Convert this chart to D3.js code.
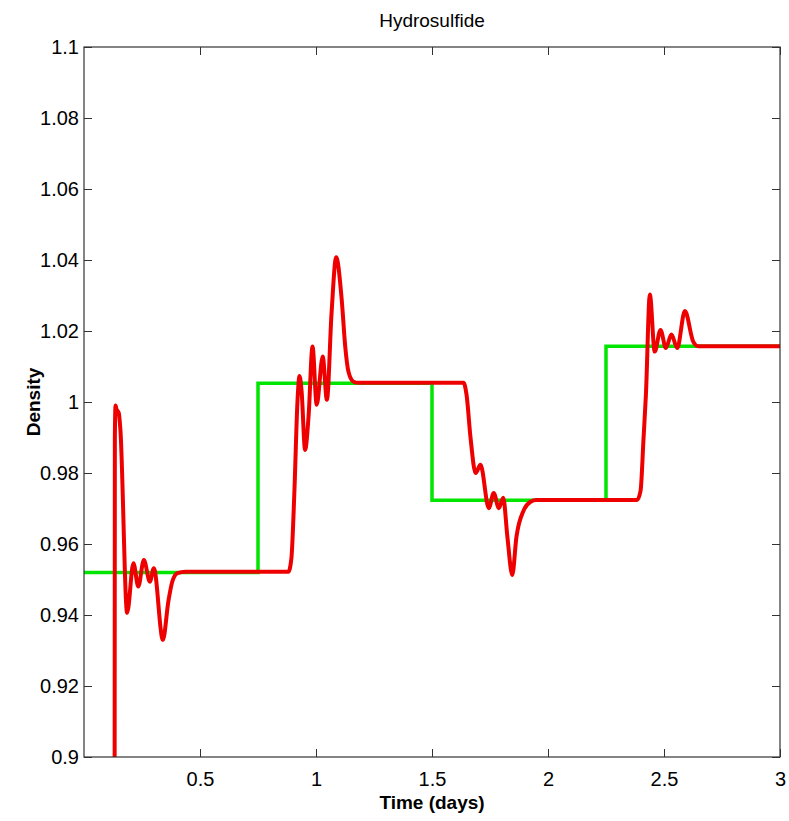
<!DOCTYPE html>
<html><head><meta charset="utf-8">
<script src="https://cdn.jsdelivr.net/npm/d3@7"></script>
<style>
html,body{margin:0;padding:0;background:#fff;}
text{font-family:"Liberation Sans",Arial,sans-serif;}
</style></head>
<body><svg id="c" width="789" height="821"></svg>
<script>
// ---- data ----
const title = "Hydrosulfide";
const xLabel = "Time (days)";
const yLabel = "Density";
const xTicks = [0.5, 1, 1.5, 2, 2.5, 3];
const yTicks = [0.9, 0.92, 0.94, 0.96, 0.98, 1, 1.02, 1.04, 1.06, 1.08, 1.1];
// reference (step) series
const refT = [0, 0.75, 0.75, 1.5, 1.5, 2.25, 2.25, 3];
const refV = [0.952, 0.952, 1.0053, 1.0053, 0.9723, 0.9723, 1.0157, 1.0157];
// simulated series
const simT = [0.131, 0.133, 0.136, 0.140, 0.150, 0.157, 0.186, 0.213, 0.234, 0.258, 0.284, 0.301, 0.340, 0.364, 0.381, 0.403, 0.438,
  0.881, 0.894, 0.907, 0.920, 0.929, 0.938, 0.953, 0.968, 0.985, 1.003, 1.029, 1.047, 1.067, 1.087, 1.111, 1.126, 1.140, 1.162, 1.183,
  1.636, 1.649, 1.666, 1.688, 1.709, 1.745, 1.766, 1.788, 1.807, 1.825, 1.846, 1.864, 1.896, 1.925, 1.950,
  2.384, 2.399, 2.412, 2.422, 2.439, 2.460, 2.485, 2.508, 2.532, 2.557, 2.590, 2.626, 2.647, 3.0];
const simV = [0.80, 0.990, 0.999, 0.998, 0.9969, 0.9921, 0.9406, 0.9546, 0.948, 0.9555, 0.9494, 0.9532, 0.933, 0.944, 0.9495, 0.9518, 0.9522,
  0.9522, 0.956, 0.975, 1.000, 1.0073, 1.003, 0.9865, 0.996, 1.0156, 0.9992, 1.0128, 1.0006, 1.025, 1.0408, 1.0287, 1.0156, 1.0085, 1.0057, 1.0054,
  1.0054, 1.002, 0.990, 0.980, 0.9823, 0.9701, 0.9744, 0.9701, 0.973, 0.962, 0.9513, 0.962, 0.9696, 0.9719, 0.9724,
  0.9724, 0.975, 0.990, 1.002, 1.0303, 1.0142, 1.0203, 1.0152, 1.019, 1.0152, 1.0256, 1.017, 1.0157, 1.0157];

// ---- layout ----
const svg = d3.select("#c");
const L = 84, R = 780, T = 47, B = 757;
const x = d3.scaleLinear().domain([0, 3]).range([L, R]);
const y = d3.scaleLinear().domain([0.9, 1.1]).range([B, T]);
const axisColor = "#333";
const fmt = d => String(+d.toFixed(2));
const FS = "20px";

svg.append("defs").append("clipPath").attr("id", "clip")
  .append("rect").attr("x", L).attr("y", T).attr("width", R - L).attr("height", B - T);

const g = svg.append("g").attr("clip-path", "url(#clip)");
const refData = refT.map((t, i) => [t, refV[i]]);
const simData = simT.map((t, i) => [t, simV[i]]);

g.append("path").datum(refData)
  .attr("fill", "none").attr("stroke", "#00e600").attr("stroke-width", 3.5)
  .attr("d", d3.line().x(d => x(d[0])).y(d => y(d[1])));
g.append("path").datum(simData)
  .attr("fill", "none").attr("stroke", "#ee0000").attr("stroke-width", 4).attr("stroke-linejoin", "round")
  .attr("d", d3.line().x(d => x(d[0])).y(d => y(d[1])).curve(d3.curveMonotoneX));

// axes (ticks inward on all sides)
const tk = 8;
function styleAxis(sel, labels) {
  sel.select(".domain").remove();
  sel.selectAll(".tick line").attr("stroke", axisColor);
  sel.selectAll(".tick text").attr("fill", "#000").style("font-size", FS)
     .style("font-family", '"Liberation Sans", Arial, sans-serif');
  if (!labels) sel.selectAll(".tick text").remove();
}
svg.append("g").attr("transform", `translate(0,${B})`)
  .call(d3.axisBottom(x).tickValues(xTicks).tickFormat(fmt).tickSizeInner(-tk).tickSizeOuter(0).tickPadding(15))
  .call(s => styleAxis(s, true));
svg.append("g").attr("transform", `translate(0,${T})`)
  .call(d3.axisTop(x).tickValues(xTicks).tickSizeInner(-tk).tickSizeOuter(0))
  .call(s => styleAxis(s, false));
svg.append("g").attr("transform", `translate(${L},0)`)
  .call(d3.axisLeft(y).tickValues(yTicks).tickFormat(fmt).tickSizeInner(-tk).tickSizeOuter(0).tickPadding(5))
  .call(s => styleAxis(s, true));
svg.append("g").attr("transform", `translate(${R},0)`)
  .call(d3.axisRight(y).tickValues(yTicks).tickSizeInner(-tk).tickSizeOuter(0))
  .call(s => styleAxis(s, false));

svg.append("rect").attr("x", L).attr("y", T).attr("width", R - L).attr("height", B - T)
  .attr("fill", "none").attr("stroke", axisColor).attr("stroke-width", 1.2);

// labels
svg.append("text").attr("x", (L + R) / 2).attr("y", 27).attr("text-anchor", "middle")
  .style("font-size", "19px").text(title);
svg.append("text").attr("x", (L + R) / 2).attr("y", 809).attr("text-anchor", "middle")
  .style("font-size", "19px").style("font-weight", "bold").text(xLabel);
svg.append("text").attr("transform", `translate(40,${(T + B) / 2}) rotate(-90)`).attr("text-anchor", "middle")
  .style("font-size", "19px").style("font-weight", "bold").text(yLabel);
</script></body></html>
